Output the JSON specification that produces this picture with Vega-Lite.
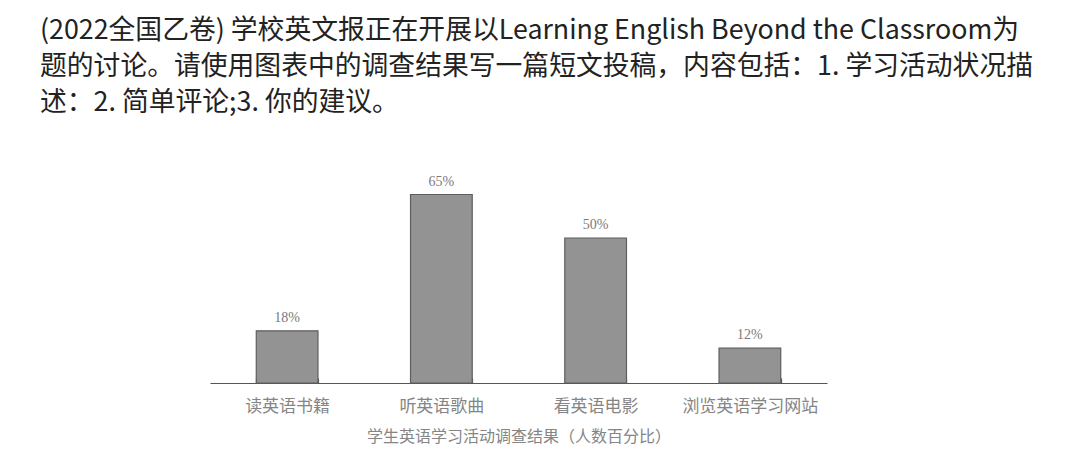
{
  "$schema": "https://vega.github.io/schema/vega-lite/v6.json",
  "autosize": "none",
  "width": 617,
  "height": 203,
  "padding": {"left": 210, "top": 180, "right": 253, "bottom": 88},
  "background": "white",
  "title": {
    "text": [
      "(2022全国乙卷) 学校英文报正在开展以Learning English Beyond the Classroom为",
      "题的讨论。请使用图表中的调查结果写一篇短文投稿，内容包括：1. 学习活动状况描",
      "述：2. 简单评论;3. 你的建议。"
    ],
    "anchor": "start",
    "frame": "group",
    "dx": -170,
    "offset": 58,
    "font": "Noto Sans CJK SC",
    "fontSize": 26.8,
    "fontWeight": "normal",
    "color": "#222222",
    "lineHeight": 36
  },
  "data": {
    "values": [
      {"activity": "读英语书籍", "share": 0.18},
      {"activity": "听英语歌曲", "share": 0.65},
      {"activity": "看英语电影", "share": 0.5},
      {"activity": "浏览英语学习网站", "share": 0.12}
    ]
  },
  "encoding": {
    "x": {
      "field": "activity",
      "type": "nominal",
      "sort": null,
      "scale": {"paddingInner": 0.6, "paddingOuter": 0.3},
      "title": "学生英语学习活动调查结果（人数百分比）",
      "axis": {
        "labelAngle": 0,
        "labelFont": "Noto Sans CJK SC",
        "labelFontSize": 17,
        "labelColor": "#858585",
        "labelPadding": 20,
        "titleFont": "Noto Sans CJK SC",
        "titleFontSize": 16,
        "titleFontWeight": "normal",
        "titleColor": "#858585",
        "titlePadding": 14,
        "domainColor": "#555555",
        "domainWidth": 1.2,
        "ticks": true,
        "tickBand": "extent",
        "tickColor": "#555555",
        "tickSize": -5,
        "tickWidth": 1.2
      }
    },
    "y": {
      "field": "share",
      "type": "quantitative",
      "scale": {"domain": [0, 0.7]},
      "axis": null
    }
  },
  "layer": [
    {
      "mark": {"type": "bar", "color": "#939393", "stroke": "#5e5e5e", "strokeWidth": 1.2}
    },
    {
      "mark": {"type": "text", "dy": -13, "font": "Liberation Serif", "fontSize": 14, "color": "#7a7a7a"},
      "encoding": {
        "text": {"field": "share", "type": "quantitative", "format": ".0%"}
      }
    }
  ],
  "config": {"view": {"stroke": null}}
}
